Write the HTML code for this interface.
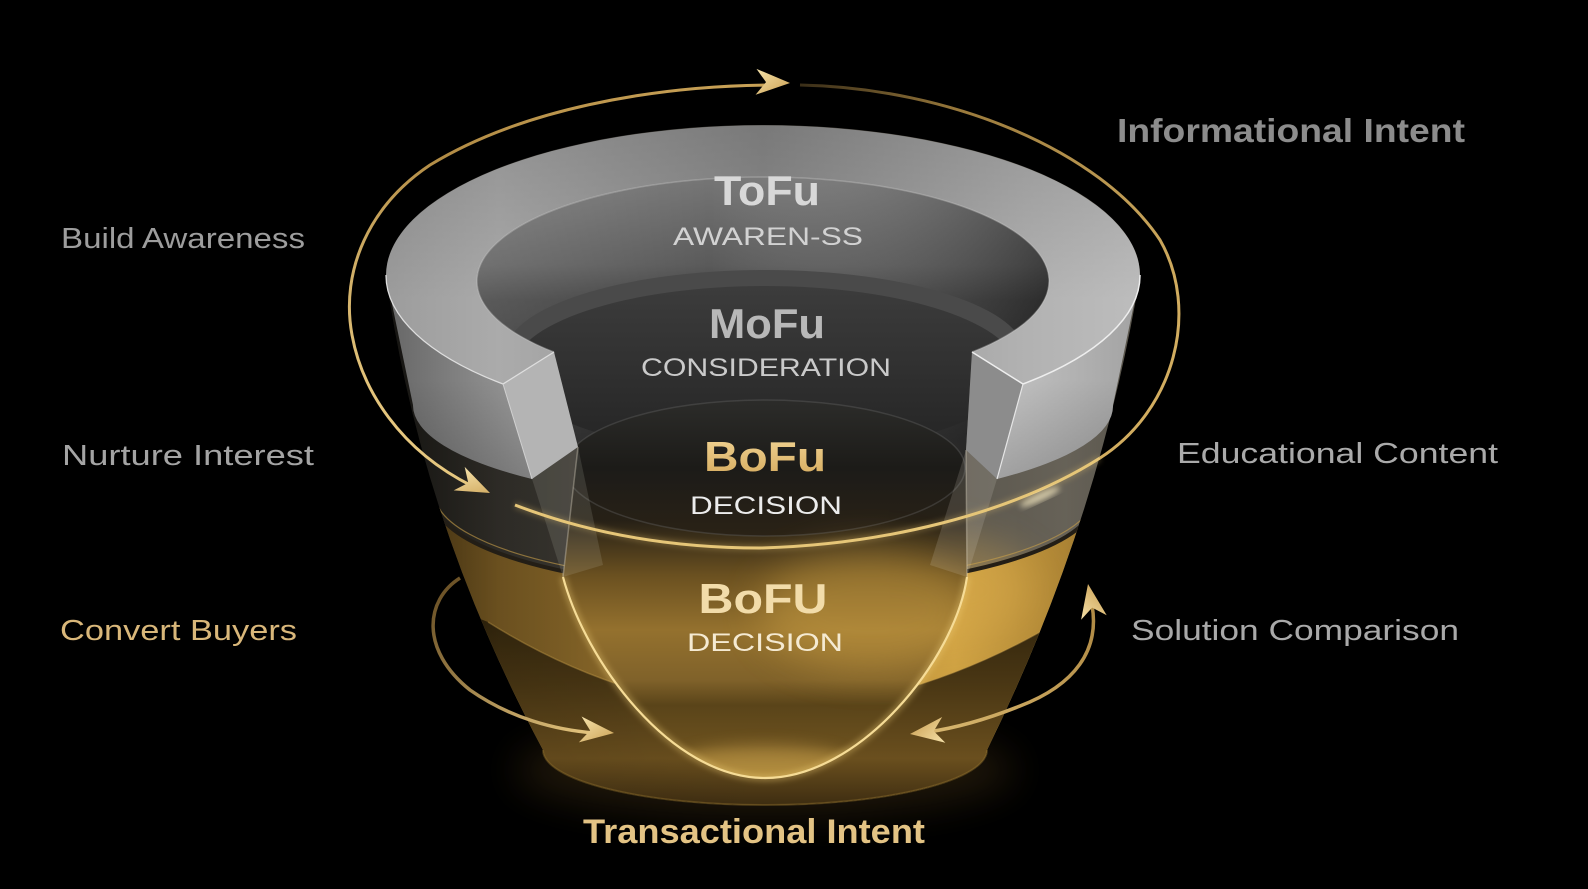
<!DOCTYPE html>
<html><head><meta charset="utf-8">
<style>
html,body{margin:0;padding:0;background:#000;overflow:hidden}
svg{display:block}
text{font-family:"Liberation Sans",sans-serif}
</style></head>
<body>
<svg width="1588" height="889" viewBox="0 0 1588 889" xmlns="http://www.w3.org/2000/svg">
<defs>
  <clipPath id="body"><path d="M386 275 Q420 520 543 750 A222 55 0 0 0 987 750 Q1100 520 1140 275 A377 150 0 0 0 386 275 Z"/></clipPath>
  <clipPath id="inner"><path d="M554 352 A286 104 0 1 1 972 352 L966 450 L967 577 C955 660 860 778 765 778 C670 778 585 660 563 577 L578 447 Z"/></clipPath>

  <linearGradient id="gBand" gradientUnits="userSpaceOnUse" x1="386" y1="0" x2="1140" y2="0">
    <stop offset="0" stop-color="#26241f"/><stop offset="0.3" stop-color="#3e3b35"/>
    <stop offset="0.7" stop-color="#57534a"/><stop offset="1" stop-color="#6e695e"/>
  </linearGradient>
  <linearGradient id="gGold" gradientUnits="userSpaceOnUse" x1="440" y1="0" x2="1100" y2="0">
    <stop offset="0" stop-color="#6a4f1e"/><stop offset="0.25" stop-color="#8c6a2a"/>
    <stop offset="0.55" stop-color="#b08835"/><stop offset="0.78" stop-color="#cfa243"/>
    <stop offset="1" stop-color="#a27b30"/>
  </linearGradient>
  <linearGradient id="gDark" gradientUnits="userSpaceOnUse" x1="0" y1="620" x2="0" y2="805">
    <stop offset="0" stop-color="#33260d"/><stop offset="0.35" stop-color="#4a3714"/>
    <stop offset="0.75" stop-color="#6a4f1e"/><stop offset="1" stop-color="#3e2d11"/>
  </linearGradient>
  <linearGradient id="gSide" gradientUnits="userSpaceOnUse" x1="386" y1="0" x2="1140" y2="0">
    <stop offset="0" stop-color="#000" stop-opacity="0.45"/><stop offset="0.15" stop-color="#000" stop-opacity="0.1"/>
    <stop offset="0.5" stop-color="#000" stop-opacity="0"/><stop offset="0.9" stop-color="#000" stop-opacity="0"/>
    <stop offset="1" stop-color="#000" stop-opacity="0.2"/>
  </linearGradient>
  <linearGradient id="gInt" gradientUnits="userSpaceOnUse" x1="0" y1="177" x2="0" y2="780">
    <stop offset="0" stop-color="#767676"/><stop offset="0.146" stop-color="#5a5a5a"/>
    <stop offset="0.204" stop-color="#404040"/><stop offset="0.436" stop-color="#1e1e1e"/>
    <stop offset="0.569" stop-color="#262016"/><stop offset="0.66" stop-color="#6a5020"/>
    <stop offset="0.751" stop-color="#94712e"/><stop offset="0.834" stop-color="#80622a"/>
    <stop offset="0.876" stop-color="#5a4419"/><stop offset="0.942" stop-color="#6a501e"/>
    <stop offset="1" stop-color="#a07e32"/>
  </linearGradient>
  <linearGradient id="gWallH" gradientUnits="userSpaceOnUse" x1="480" y1="0" x2="1055" y2="0">
    <stop offset="0" stop-color="#fff" stop-opacity="0.14"/><stop offset="0.4" stop-color="#fff" stop-opacity="0"/>
    <stop offset="1" stop-color="#000" stop-opacity="0.35"/>
  </linearGradient>
  <linearGradient id="gMo" gradientUnits="userSpaceOnUse" x1="0" y1="286" x2="0" y2="440">
    <stop offset="0" stop-color="#3c3c3c"/><stop offset="1" stop-color="#262626"/>
  </linearGradient>
  <linearGradient id="gBo" gradientUnits="userSpaceOnUse" x1="0" y1="400" x2="0" y2="536">
    <stop offset="0" stop-color="#2c2c2a"/><stop offset="0.5" stop-color="#1c1b18"/>
    <stop offset="1" stop-color="#2a2216"/>
  </linearGradient>
  <linearGradient id="gTop" gradientUnits="userSpaceOnUse" x1="386" y1="0" x2="1140" y2="0">
    <stop offset="0" stop-color="#9c9c9c"/><stop offset="0.15" stop-color="#ababab"/>
    <stop offset="0.5" stop-color="#8e8e8e"/><stop offset="0.85" stop-color="#b2b2b2"/>
    <stop offset="1" stop-color="#bdbdbd"/>
  </linearGradient>
  <linearGradient id="gTopV" gradientUnits="userSpaceOnUse" x1="0" y1="125" x2="0" y2="300">
    <stop offset="0" stop-color="#000" stop-opacity="0.15"/><stop offset="1" stop-color="#000" stop-opacity="0"/>
  </linearGradient>
  <linearGradient id="gLW" gradientUnits="userSpaceOnUse" x1="386" y1="0" x2="532" y2="0">
    <stop offset="0" stop-color="#666"/><stop offset="1" stop-color="#9c9c9c"/>
  </linearGradient>
  <linearGradient id="gRW" gradientUnits="userSpaceOnUse" x1="997" y1="0" x2="1140" y2="0">
    <stop offset="0" stop-color="#c4c4c4"/><stop offset="1" stop-color="#a2a2a2"/>
  </linearGradient>
  <linearGradient id="gWallFade" gradientUnits="userSpaceOnUse" x1="0" y1="380" x2="0" y2="480">
    <stop offset="0" stop-color="#000" stop-opacity="0"/><stop offset="1" stop-color="#000" stop-opacity="0.18"/>
  </linearGradient>
  <linearGradient id="gArcTR" gradientUnits="userSpaceOnUse" x1="800" y1="85" x2="1180" y2="300">
    <stop offset="0" stop-color="#3a2e18"/><stop offset="0.35" stop-color="#9a7a3c"/>
    <stop offset="1" stop-color="#d2ad60"/>
  </linearGradient>
  <linearGradient id="gArcL" gradientUnits="userSpaceOnUse" x1="770" y1="85" x2="480" y2="490">
    <stop offset="0" stop-color="#c9a257"/><stop offset="0.5" stop-color="#b28c45"/>
    <stop offset="1" stop-color="#e6c77f"/>
  </linearGradient>
  <linearGradient id="gArcLL" gradientUnits="userSpaceOnUse" x1="460" y1="578" x2="600" y2="733">
    <stop offset="0" stop-color="#6e5428"/><stop offset="1" stop-color="#e8c880"/>
  </linearGradient>
  <linearGradient id="gArcLR" gradientUnits="userSpaceOnUse" x1="1092" y1="605" x2="928" y2="732">
    <stop offset="0" stop-color="#b08a44"/><stop offset="1" stop-color="#d9b870"/>
  </linearGradient>
  <linearGradient id="gHead" x1="0" y1="0" x2="1" y2="1">
    <stop offset="0" stop-color="#f6e2aa"/><stop offset="1" stop-color="#c99e50"/>
  </linearGradient>
  <linearGradient id="gBoFuTxt" x1="0" y1="0" x2="0" y2="1">
    <stop offset="0" stop-color="#f3d696"/><stop offset="1" stop-color="#d4a95c"/>
  </linearGradient>
  <filter id="blur8" x="-50%" y="-50%" width="200%" height="200%"><feGaussianBlur stdDeviation="8"/></filter>
  <filter id="blur3" x="-20%" y="-20%" width="140%" height="140%"><feGaussianBlur stdDeviation="3"/></filter>
  <filter id="blur20" x="-50%" y="-50%" width="200%" height="200%"><feGaussianBlur stdDeviation="20"/></filter>
  <polygon id="head" points="0,0 -34,-13 -24,0 -34,13"/>
</defs>

<rect width="1588" height="889" fill="#000"/>

<ellipse cx="765" cy="770" rx="250" ry="45" fill="#6a5020" opacity="0.3" filter="url(#blur20)"/>

<!-- BODY -->
<g clip-path="url(#body)">
  <rect x="370" y="110" width="790" height="720" fill="url(#gBand)"/>
  <path d="M435 500 A330 90 0 0 0 1095 500 L1200 500 L1200 900 L330 900 L330 500 Z" fill="url(#gGold)"/>
  <ellipse cx="900" cy="590" rx="140" ry="60" fill="#e0b050" opacity="0.35" filter="url(#blur20)"/>
  <path d="M330 560 L488 622 Q620 705 765 712 Q910 705 1040 632 L1200 560 L1200 900 L330 900 Z" fill="url(#gDark)"/>
  <path d="M488 622 Q620 705 765 712 Q910 705 1040 632" fill="none" stroke="#c9a04a" stroke-width="1.5" opacity="0.45"/>
  <rect x="370" y="110" width="790" height="720" fill="url(#gSide)"/>
  <path d="M435 500 A330 90 0 0 0 1095 500" fill="none" stroke="#231e16" stroke-width="4"/>
  <path d="M437 504 A330 90 0 0 0 1093 504" fill="none" stroke="#c9a04a" stroke-width="1.2" opacity="0.6"/>
</g>
<path d="M543 750 A222 55 0 0 0 987 750" fill="none" stroke="#8a6a2a" stroke-width="2" opacity="0.45"/>

<!-- INTERIOR -->
<g clip-path="url(#inner)">
  <rect x="470" y="170" width="600" height="620" fill="url(#gInt)"/>
  <rect x="470" y="170" width="600" height="300" fill="url(#gWallH)"/>
  <ellipse cx="765" cy="354" rx="260" ry="84" fill="#4a4a4a"/>
  <ellipse cx="765" cy="370" rx="252" ry="84" fill="url(#gMo)"/>
  <ellipse cx="765" cy="468" rx="200" ry="68" fill="url(#gBo)" stroke="#6a6a6a" stroke-opacity="0.35" stroke-width="1.5"/>
  <ellipse cx="870" cy="610" rx="110" ry="60" fill="#d8aa48" opacity="0.4" filter="url(#blur20)"/>
  <ellipse cx="765" cy="765" rx="90" ry="20" fill="#e0b458" opacity="0.4" filter="url(#blur8)"/>
</g>

<!-- pillars -->
<path d="M532 479 L578 447 L603 565 L563 577 Z" fill="#d8d2c4" opacity="0.14"/>
<path d="M966 450 L997 479 L967 577 L930 565 Z" fill="#e0dacb" opacity="0.16"/>
<path d="M578 447 L563 577" stroke="#e8e0cc" stroke-opacity="0.35" stroke-width="1.5"/>
<path d="M966 450 L967 577" stroke="#e8e0cc" stroke-opacity="0.35" stroke-width="1.5"/>

<!-- U line -->
<path d="M563 577 C585 660 670 778 765 778 C860 778 955 660 967 577" fill="none" stroke="#f0cf78" stroke-width="7" opacity="0.35" filter="url(#blur3)"/>
<path d="M563 577 C585 660 670 778 765 778 C860 778 955 660 967 577" fill="none" stroke="#f6dc96" stroke-width="2.2"/>

<!-- RING -->
<path d="M386 275 A377 150 0 0 0 503 384 L532 479 A350 98 0 0 1 413 405 Z" fill="url(#gLW)"/>
<path d="M1140 275 A377 150 0 0 1 1023 384 L997 479 A350 98 0 0 0 1113 405 Z" fill="url(#gRW)"/>
<path d="M386 275 A377 150 0 0 0 503 384 L532 479 A350 98 0 0 1 413 405 Z" fill="url(#gWallFade)"/>
<path d="M1140 275 A377 150 0 0 1 1023 384 L997 479 A350 98 0 0 0 1113 405 Z" fill="url(#gWallFade)"/>
<path d="M503 384 A377 150 0 1 1 1023 384 L972 352 A286 104 0 1 0 554 352 Z" fill="url(#gTop)"/>
<path d="M503 384 A377 150 0 1 1 1023 384 L972 352 A286 104 0 1 0 554 352 Z" fill="url(#gTopV)"/>
<path d="M503 384 L554 352 L578 447 L532 479 Z" fill="#b4b4b4"/>
<path d="M972 352 L1023 384 L997 479 L966 450 Z" fill="#8c8c8c"/>
<path d="M386 275 A377 150 0 0 0 503 384 L554 352" fill="none" stroke="#dedede" stroke-width="1.3"/>
<path d="M1140 275 A377 150 0 0 1 1023 384 L972 352" fill="none" stroke="#eeeeee" stroke-width="1.5"/>
<path d="M503 384 L532 479" stroke="#d0d0d0" stroke-width="1"/>
<path d="M1023 384 L997 479" stroke="#e6e6e6" stroke-width="1.2"/>
<path d="M972 352 A286 104 0 1 0 554 352" fill="none" stroke="#cfcfcf" stroke-opacity="0.35" stroke-width="1.5"/>

<!-- INTERIOR TEXT -->
<text x="767" y="205" text-anchor="middle" font-size="42" font-weight="bold" fill="#d8d8d8" textLength="106" lengthAdjust="spacingAndGlyphs">ToFu</text>
<text x="768" y="245" text-anchor="middle" font-size="25" fill="#d2d2d2" textLength="190" lengthAdjust="spacingAndGlyphs">AWAREN-SS</text>
<text x="767" y="338" text-anchor="middle" font-size="42" font-weight="bold" fill="#b8b8b8" textLength="116" lengthAdjust="spacingAndGlyphs">MoFu</text>
<text x="766" y="376" text-anchor="middle" font-size="25" fill="#cacaca" textLength="250" lengthAdjust="spacingAndGlyphs">CONSIDERATION</text>
<text x="765" y="471" text-anchor="middle" font-size="42" font-weight="bold" fill="url(#gBoFuTxt)" textLength="122" lengthAdjust="spacingAndGlyphs">BoFu</text>
<text x="766" y="514" text-anchor="middle" font-size="25" fill="#ececec" textLength="152" lengthAdjust="spacingAndGlyphs">DECISION</text>
<text x="763" y="613" text-anchor="middle" font-size="42" font-weight="bold" fill="#f2dcaa" textLength="129" lengthAdjust="spacingAndGlyphs">BoFU</text>
<text x="765" y="651" text-anchor="middle" font-size="25" fill="#f5ead2" textLength="156" lengthAdjust="spacingAndGlyphs">DECISION</text>

<!-- ORBIT ARROWS -->
<path d="M770 85 C650 86 520 110 430 165 C370 205 340 270 352 335 C362 390 400 450 472 486" fill="none" stroke="url(#gArcL)" stroke-width="3"/>
<path d="M800 85 C950 88 1100 150 1160 240 C1200 310 1175 410 1100 458" fill="none" stroke="url(#gArcTR)" stroke-width="3"/>
<path d="M1100 458 C1010 515 880 545 760 548 C660 548 580 530 515 505" fill="none" stroke="#e2c070" stroke-width="6" opacity="0.3" filter="url(#blur3)"/>
<path d="M1100 458 C1010 515 880 545 760 548 C660 548 580 530 515 505" fill="none" stroke="#e6c678" stroke-width="3"/>
<ellipse cx="1040" cy="497" rx="22" ry="4" fill="#fff2c8" opacity="0.7" transform="rotate(-25 1040 497)" filter="url(#blur3)"/>

<use href="#head" fill="url(#gHead)" transform="translate(790 83) rotate(2)"/>
<use href="#head" fill="url(#gHead)" transform="translate(490 493) rotate(25)"/>

<path d="M460 578 C425 600 420 650 470 690 C510 718 555 730 595 733" fill="none" stroke="url(#gArcLL)" stroke-width="3.5"/>
<use href="#head" fill="url(#gHead)" transform="translate(614 733) rotate(6)"/>

<path d="M1092 605 C1100 650 1075 685 1020 706 C985 720 955 728 928 732" fill="none" stroke="url(#gArcLR)" stroke-width="3.5"/>
<use href="#head" fill="url(#gHead)" transform="translate(1088 584) rotate(-100)"/>
<use href="#head" fill="url(#gHead)" transform="translate(910 734) rotate(173)"/>

<!-- SIDE LABELS -->
<text x="61" y="248" font-size="29" fill="#9d9d9d" textLength="244" lengthAdjust="spacingAndGlyphs">Build Awareness</text>
<text x="62" y="465" font-size="29" fill="#a4a4a4" textLength="252" lengthAdjust="spacingAndGlyphs">Nurture Interest</text>
<text x="60" y="640" font-size="29" fill="#d9b77a" textLength="237" lengthAdjust="spacingAndGlyphs">Convert Buyers</text>
<text x="1117" y="142" font-size="33" font-weight="bold" fill="#8c8c8c" textLength="348" lengthAdjust="spacingAndGlyphs">Informational Intent</text>
<text x="1177" y="463" font-size="29" fill="#aaaaaa" textLength="321" lengthAdjust="spacingAndGlyphs">Educational Content</text>
<text x="1131" y="640" font-size="29" fill="#a9a9a9" textLength="328" lengthAdjust="spacingAndGlyphs">Solution Comparison</text>
<text x="583" y="843" font-size="34" font-weight="bold" fill="#e3c384" textLength="342" lengthAdjust="spacingAndGlyphs">Transactional Intent</text>
</svg>
</body></html>
